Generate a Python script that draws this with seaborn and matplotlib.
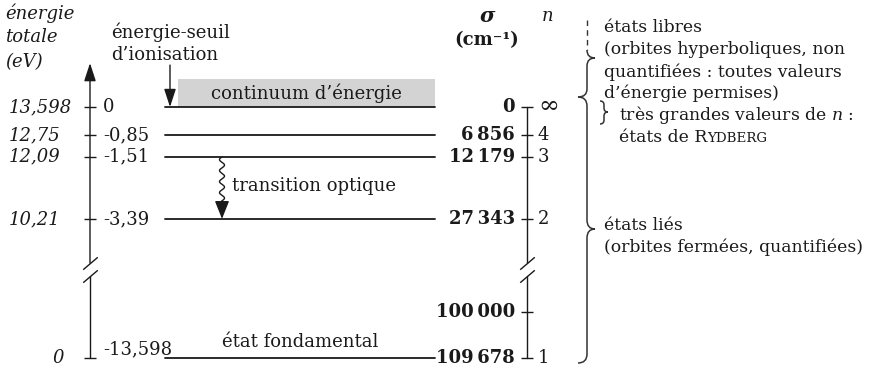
import numpy as np
import pandas as pd
import matplotlib.pyplot as plt
import seaborn as sns
from matplotlib.path import Path
from matplotlib.patches import PathPatch, Rectangle

# -----------------------------
# Data: hydrogen energy levels
# -----------------------------
n_labels = ["∞", "4", "3", "2", "1"]
E_levels = [0.0, -0.85, -1.51, -3.39, -13.598]          # eV, from the ionisation threshold
E_labels = ["0", "-0,85", "-1,51", "-3,39", "-13,598"]
E_total_labels = ["13,598", "12,75", "12,09", "10,21", "0"]
sigma_ticks = [0, 6856, 12179, 27343, 100000, 109678]    # cm-1
sigma_n = ["∞", "4", "3", "2", "", "1"]
EV_TO_CM = 8065.54

INK = "#1a1a1a"
FS = 13
FS_R = 12.4   # right-hand notes

sns.set_theme(style="white")
plt.rcParams["font.family"] = ["DejaVu Serif"]
plt.rcParams["mathtext.fontset"] = "dejavuserif"

# broken vertical scale: energy (eV) -> height in pixels from the bottom
KE = [-40.0, -13.598, -12.0, -5.0, 0.0, 20.0]
KU = [12 - 38.3 * 26.402, 12, 73.3, 98, 263, 263 + 33 * 20]


def fwd(e):
    return np.interp(e, KE, KU)


def inv(u):
    return np.interp(u, KU, KE)


fig = plt.figure(figsize=(8.73, 3.70), dpi=100)
ax = fig.add_axes([0, 0, 1, 1])
lay = fig.add_axes([0, 0, 1, 1])   # layout layer, pixel coordinates
lay.set_xlim(0, 873)
lay.set_ylim(370, 0)
lay.axis("off")

# level lines
rows = []
for n, e in zip(n_labels, E_levels):
    for x in (165, 435):
        rows.append({"n": n, "x": x, "E": e})
levels = pd.DataFrame(rows)
sns.lineplot(data=levels, x="x", y="E", units="n", estimator=None,
             color=INK, lw=1.3, ax=ax, legend=False, zorder=3)

ax.set_yscale("function", functions=(fwd, inv))
ax.set_xlim(0, 873)
ax.set_ylim(inv(0), inv(370))
ax.axis("off")

# continuum box
ax.add_patch(Rectangle((178, 0), 435 - 178, 0.85, fc="#d3d3d3", ec="none", zorder=1))
ax.text(306, 0.43, "continuum d’énergie", ha="center", va="center", fontsize=FS, color=INK)

# vertical axes with breaks
AX_L, AX_R = 90, 527
BREAK = [-4.73, -6.1]
SLASH = [(-1, -0.85), (1, 0.85)]
head = "-|>,head_length=0.55,head_width=0.18"
ax.annotate("", xy=(AX_L, 1.33), xytext=(AX_L, BREAK[0]),
            arrowprops=dict(arrowstyle=head, color=INK, lw=1, mutation_scale=20,
                            shrinkA=0, shrinkB=0))
ax.plot([AX_L, AX_L], [BREAK[1], E_levels[-1]], color=INK, lw=1)
ax.plot([AX_R, AX_R], [E_levels[0], BREAK[0]], color=INK, lw=1)
ax.plot([AX_R, AX_R], [BREAK[1], E_levels[-1]], color=INK, lw=1)
for xa in (AX_L, AX_R):
    ax.plot([xa, xa], BREAK, ls="none", marker=SLASH, ms=10.5, mew=1,
            mfc="none", mec=INK)

ax.plot([AX_L] * len(E_levels), E_levels, ls="none", marker="_", ms=9, mew=1, color=INK)
sigma_E = [-s / EV_TO_CM for s in sigma_ticks]
ax.plot([AX_R] * len(sigma_E), sigma_E, ls="none", marker="_", ms=9, mew=1, color=INK)

# left labels
for e, tot, lab in zip(E_levels, E_total_labels, E_labels):
    if tot == "0":
        ax.text(64, e, tot, ha="right", va="center", fontsize=FS, style="italic", color=INK)
    else:
        ax.text(9, e, tot, ha="left", va="center", fontsize=FS, style="italic", color=INK)
    dy = 9 if e == E_levels[-1] else 0
    ax.annotate(lab, xy=(103, e), xytext=(0, dy), textcoords="offset pixels",
                ha="left", va="center", fontsize=FS, color=INK)

# right labels
for s, e, n in zip(sigma_ticks, sigma_E, sigma_n):
    ax.text(515, e, f"{s:,}".replace(",", "\u2009"), ha="right", va="center",
            fontsize=FS, fontweight="bold", color=INK)
    if n:
        size = FS + 5 if n == "∞" else FS
        ax.text(538, e, n, ha="left", va="center", fontsize=size, color=INK)

# ionisation threshold arrow
ax.annotate("", xy=(170, E_levels[0]), xytext=(170, 1.27),
            arrowprops=dict(arrowstyle=head, color=INK, lw=1, mutation_scale=20,
                            shrinkA=0, shrinkB=0))

# optical transition (wavy arrow n=3 -> n=2)
y_start, y_end = E_levels[2], E_levels[3] + 0.42
ys = np.linspace(y_start, y_end, 300)
xs = 222 + 2.5 * np.sin((ys - y_start) * 33 / 11 * 2 * np.pi)
ax.plot(xs, ys, color=INK, lw=1)
ax.annotate("", xy=(222, E_levels[3]), xytext=(222, y_end),
            arrowprops=dict(arrowstyle="-|>,head_length=0.55,head_width=0.22",
                            color=INK, lw=1, mutation_scale=20, shrinkA=0, shrinkB=0))

# texts
lay.text(5, 13, "énergie", fontsize=FS, style="italic", va="center", color=INK)
lay.text(5, 37, "totale", fontsize=FS, style="italic", va="center", color=INK)
lay.text(5, 62, "(eV)", fontsize=FS, style="italic", va="center", color=INK)
lay.text(111, 32, "énergie-seuil", fontsize=FS, va="center", color=INK)
lay.text(111, 55, "d’ionisation", fontsize=FS, va="center", color=INK)
lay.text(487, 16, "σ", fontsize=FS + 2, fontweight="bold", style="italic",
         ha="center", va="center", color=INK)
lay.text(487, 40, "(cm⁻¹)", fontsize=FS, fontweight="bold", ha="center", va="center", color=INK)
lay.text(548, 16, "n", fontsize=FS, style="italic", ha="center", va="center", color=INK)
lay.text(232, 186, "transition optique", fontsize=FS, va="center", color=INK)
lay.text(300, 342, "état fondamental", fontsize=FS, ha="center", va="center", color=INK)

right_lines = [(604, 28, "états libres"),
               (604, 50, "(orbites hyperboliques, non"),
               (604, 72, "quantifiées : toutes valeurs"),
               (604, 93, "d’énergie permises)"),
               (619, 115, "très grandes valeurs de $n$ :"),
               (604, 226, "états liés"),
               (604, 247, "(orbites fermées, quantifiées)")]
for x, y, t in right_lines:
    lay.text(x, y, t, fontsize=FS_R, va="center", color=INK)
ryd = lay.text(619, 137, "états de R", fontsize=FS_R, va="center", color=INK)
lay.annotate("YDBERG", xy=(1, 0), xycoords=ryd, va="bottom", ha="left",
             fontsize=FS_R * 0.78, color=INK)


def brace(x, y0, y1, ytip, wl=9, wr=8, r=9, top_end=True):
    M, L, C = Path.MOVETO, Path.LINETO, Path.CURVE3
    if top_end:
        verts = [(x - wl, y0), (x, y0), (x, y0 + r)]
        codes = [M, C, C]
    else:
        verts = [(x, y0)]
        codes = [M]
    verts += [(x, ytip - r), (x, ytip), (x + wr, ytip), (x, ytip), (x, ytip + r),
              (x, y1 - r), (x, y1), (x - wl, y1)]
    codes += [L, C, C, C, C, L, C, C]
    lay.add_patch(PathPatch(Path(verts, codes), fc="none", ec="#333333", lw=1.1))


lay.plot([587, 587], [20, 50], color="#333333", lw=1, ls=(0, (4, 3)))
brace(587, 50, 97, 58, r=8, top_end=False)
brace(587, 97, 363, 229)
brace(604, 101, 124, 112, wl=4, wr=4, r=4)

fig.savefig("out.png", dpi=100)
